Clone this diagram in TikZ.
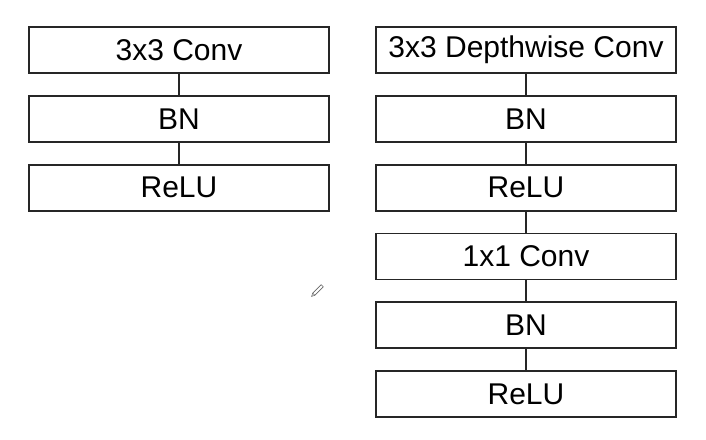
\documentclass[tikz,border=0pt]{standalone}
\usepackage{fontspec}
\setmainfont{Liberation Sans}
\usepackage{tikz}
\usetikzlibrary{positioning}

\tikzset{
    layer/.style={draw=black!85, line width=1.8pt, minimum width=300pt, minimum height=46pt,
        inner sep=0pt, font=\fontsize{30}{34}\selectfont},
    link/.style={draw=black!85, line width=1.8pt}
}

\begin{document}
\begin{tikzpicture}[node distance=21pt]
    \useasboundingbox (0,0) rectangle (706pt,-439pt);
    % Khối tích chập thường
    \node[layer] (conv) at (179pt,-50pt) {3x3 Conv};
    \node[layer, below=of conv] (bnA) {BN};
    \node[layer, below=of bnA] (reluA) {ReLU};
    \draw[link] (conv) -- (bnA);
    \draw[link] (bnA) -- (reluA);

    % Khối tích chập tách được theo chiều sâu
    \node[layer] (dw) at (526pt,-50pt) {3x3 Depthwise Conv};
    \node[layer, below=of dw] (bnB) {BN};
    \node[layer, below=of bnB] (reluB) {ReLU};
    \node[layer, below=of reluB] (pw) {1x1 Conv};
    \node[layer, below=of pw] (bnC) {BN};
    \node[layer, below=of bnC] (reluC) {ReLU};
    \draw[link] (dw) -- (bnB);
    \draw[link] (bnB) -- (reluB);
    \draw[link] (reluB) -- (pw);
    \draw[link] (pw) -- (bnC);
    \draw[link] (bnC) -- (reluC);

    % Con trỏ bút chì
    \draw[black!60, line width=0.6pt, rotate around={45:(318pt,-290pt)}]
        (312pt,-291.5pt) rectangle (324pt,-288.5pt);
    \draw[black!60, line width=0.6pt, rotate around={45:(318pt,-290pt)}]
        (312pt,-291.5pt) -- (309pt,-290pt) -- (312pt,-288.5pt);
\end{tikzpicture}
\end{document}
